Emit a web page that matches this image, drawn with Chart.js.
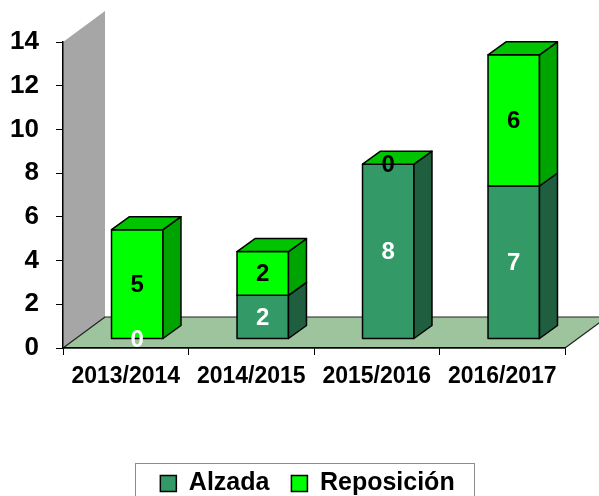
<!DOCTYPE html>
<html>
<head>
<meta charset="utf-8">
<script src="https://cdn.jsdelivr.net/npm/chart.js@4/dist/chart.umd.min.js"></script>
<style>
  body { margin: 0; background: #fff; }
  canvas { display: block; }
</style>
</head>
<body>
<canvas id="chart" width="599" height="496"></canvas>
<script>
const categories = ["2013/2014", "2014/2015", "2015/2016", "2016/2017"];
const alzada = [0, 2, 8, 7];
const reposicion = [5, 2, 0, 6];
const yMin = 0;
const yMax = 14;
const yStep = 2;

const FONT = "Arial, 'Liberation Sans', sans-serif";

// colours for front / side / top of each series
const faces = [
  { front: "#339966", side: "#1f5f3f", top: "#2a8055", text: "#ffffff" },
  { front: "#00ff00", side: "#00a400", top: "#00c400", text: "#000000" },
];

// depth of the whole plot (wall/floor) and where the bars sit in it
const DEPTH = { x: 42, y: -31 };
const BAR_OFF = { x: 11.5, y: -9 };
const BAR_DEPTH = { x: 18, y: -13 };
const LEGEND_SHIFT = 25;

function poly(ctx, pts, fill) {
  ctx.beginPath();
  ctx.moveTo(pts[0][0], pts[0][1]);
  for (let i = 1; i < pts.length; i++) ctx.lineTo(pts[i][0], pts[i][1]);
  ctx.closePath();
  ctx.fillStyle = fill;
  ctx.fill();
  ctx.stroke();
}

const box3d = {
  id: "box3d",
  afterLayout(chart) {
    // legend in the original sits a bit right of the plot centre
    if (chart.legend) {
      chart.legend.left += LEGEND_SHIFT;
      chart.legend.right += LEGEND_SHIFT;
    }
  },
  beforeDraw(chart) {
    const { ctx, chartArea: ca } = chart;
    ctx.save();
    ctx.lineJoin = "round";
    // back wall
    ctx.strokeStyle = "rgba(0,0,0,0)";
    poly(ctx, [
      [ca.left, ca.top],
      [ca.left + DEPTH.x, ca.top + DEPTH.y],
      [ca.left + DEPTH.x, ca.bottom + DEPTH.y],
      [ca.left, ca.bottom],
    ], "#a6a6a6");
    // floor
    ctx.strokeStyle = "#222";
    ctx.lineWidth = 1.2;
    poly(ctx, [
      [ca.left, ca.bottom],
      [ca.right, ca.bottom],
      [ca.right + DEPTH.x, ca.bottom + DEPTH.y],
      [ca.left + DEPTH.x, ca.bottom + DEPTH.y],
    ], "#9dc49d");
    ctx.restore();
  },
  beforeDatasetsDraw(chart) {
    const ctx = chart.ctx;
    const n = chart.data.labels.length;
    const metas = chart.data.datasets.map((d, i) => chart.getDatasetMeta(i));
    const labels = [];
    ctx.save();
    ctx.strokeStyle = "#000";
    ctx.lineWidth = 1.5;
    ctx.lineJoin = "round";
    for (let i = 0; i < n; i++) {
      let topSeg = null;
      metas.forEach((meta, di) => {
        const el = meta.data[i];
        const p = el.getProps(["x", "y", "base", "width"], true);
        const l = p.x - p.width / 2 + BAR_OFF.x;
        const r = l + p.width;
        const t = Math.min(p.y, p.base) + BAR_OFF.y;
        const b = Math.max(p.y, p.base) + BAR_OFF.y;
        const f = faces[di];
        if (b - t > 0.5) {
          poly(ctx, [[l, t], [r, t], [r, b], [l, b]], f.front);
          poly(ctx, [
            [r, t],
            [r + BAR_DEPTH.x, t + BAR_DEPTH.y],
            [r + BAR_DEPTH.x, b + BAR_DEPTH.y],
            [r, b],
          ], f.side);
        }
        topSeg = { l, r, t, f };
        labels.push({ x: (l + r) / 2, y: (t + b) / 2, v: chart.data.datasets[di].data[i], c: f.text });
      });
      if (topSeg) {
        const { l, r, t, f } = topSeg;
        poly(ctx, [
          [l, t],
          [l + BAR_DEPTH.x, t + BAR_DEPTH.y],
          [r + BAR_DEPTH.x, t + BAR_DEPTH.y],
          [r, t],
        ], f.top);
      }
    }
    ctx.font = "bold 24px " + FONT;
    ctx.textAlign = "center";
    ctx.textBaseline = "middle";
    labels.forEach((lb) => {
      ctx.fillStyle = lb.c;
      ctx.fillText(String(lb.v), lb.x, lb.y + 1);
    });
    ctx.restore();
    return false;
  },
  afterDraw(chart) {
    const boxes = chart.legend && chart.legend.legendHitBoxes;
    if (!boxes || !boxes.length) return;
    const first = boxes[0];
    const last = boxes[boxes.length - 1];
    const ctx = chart.ctx;
    ctx.save();
    ctx.strokeStyle = "#8c8c8c";
    ctx.lineWidth = 1;
    const x0 = Math.round(first.left - 25) + 0.5;
    const x1 = Math.round(last.left + last.width + 19) + 0.5;
    const y0 = 463.5;
    ctx.strokeRect(x0, y0, x1 - x0, 60);
    ctx.restore();
  },
};

new Chart(document.getElementById("chart"), {
  type: "bar",
  data: {
    labels: categories,
    datasets: [
      {
        label: "Alzada",
        data: alzada,
        backgroundColor: faces[0].front,
        borderColor: "#000",
        borderWidth: 1.5,
      },
      {
        label: "Reposición",
        data: reposicion,
        backgroundColor: faces[1].front,
        borderColor: "#000",
        borderWidth: 1.5,
      },
    ],
  },
  options: {
    responsive: false,
    animation: false,
    barPercentage: 0.41,
    categoryPercentage: 1,
    layout: { padding: { left: 0, right: 34, top: 42, bottom: -10 } },
    plugins: {
      tooltip: { enabled: false },
      legend: {
        position: "bottom",
        labels: {
          color: "#000",
          font: { family: FONT, size: 25, weight: "bold" },
          boxWidth: 16,
          boxHeight: 16,
          padding: 22,
        },
      },
    },
    scales: {
      x: {
        stacked: true,
        grid: { drawOnChartArea: false, tickLength: 7, tickColor: "#000", offset: true },
        border: { color: "#000", width: 1.5 },
        ticks: { color: "#000", font: { family: FONT, size: 23, weight: "bold" }, padding: 8 },
        afterFit(scale) { scale.height = 101; },
      },
      y: {
        stacked: true,
        min: yMin,
        max: yMax,
        grid: { drawOnChartArea: false, tickLength: 7, tickColor: "#000" },
        border: { color: "#000", width: 1.5 },
        ticks: {
          stepSize: yStep,
          color: "#000",
          font: { family: FONT, size: 26, weight: "bold" },
          padding: 17,
        },
        afterFit(scale) { scale.width = 63; },
      },
    },
  },
  plugins: [box3d],
});
</script>
</body>
</html>
